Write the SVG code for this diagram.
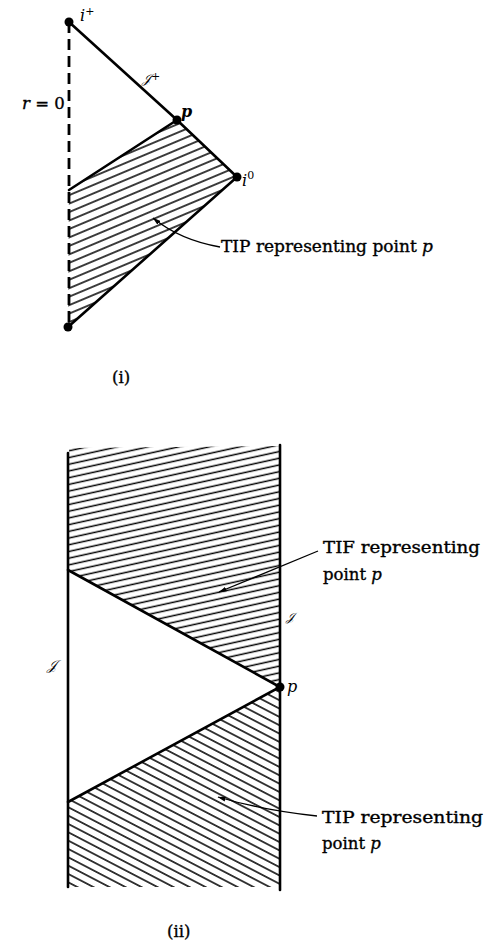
<svg xmlns="http://www.w3.org/2000/svg" width="486" height="943" viewBox="0 0 486 943">
<style>
.bd{stroke:#000;stroke-width:2.6;fill:none;stroke-linecap:round}
.ht{stroke:#000;stroke-width:1.5}
.lb{font-family:"DejaVu Serif","Liberation Serif",serif;font-size:16.5px;fill:#000;stroke:#000;stroke-width:0.35}
.it{font-family:"DejaVu Serif","Liberation Serif",serif;font-style:italic;fill:#000}
.ld{stroke:#000;stroke-width:1.3;fill:none}
</style>
<defs>
<pattern id="h1" patternUnits="userSpaceOnUse" width="20" height="7.8" patternTransform="rotate(-22.8)">
<line class="ht" x1="0" y1="3.9" x2="20" y2="3.9"/>
</pattern>
<pattern id="h2" patternUnits="userSpaceOnUse" width="20" height="6.55" patternTransform="rotate(-12.4)">
<line class="ht" x1="0" y1="3.2" x2="20" y2="3.2"/>
</pattern>
<pattern id="h3" patternUnits="userSpaceOnUse" width="20" height="7.4" patternTransform="rotate(27.5)">
<line class="ht" x1="0" y1="3.7" x2="20" y2="3.7"/>
</pattern>
<marker id="ar" viewBox="0 0 10 6" refX="9.5" refY="3" markerWidth="8" markerHeight="5" orient="auto" markerUnits="userSpaceOnUse">
<path d="M0,0 L10,3 L0,6 Z" fill="#000"/>
</marker>
</defs>

<!-- Diagram (i) -->
<g id="tip-region-i">
<polygon points="69,190 177,120 237,177 68,327" fill="url(#h1)"/>
</g>
<g id="r0-axis">
<line x1="69" y1="22" x2="69" y2="327" stroke="#000" stroke-width="2.8" stroke-dasharray="11,6"/>
</g>
<g id="connectors-i">
<polyline class="bd" points="69,22 177,120 237,177 68,327"/>
<line class="bd" x1="177" y1="120" x2="69" y2="190"/>
</g>
<g id="node-iplus"><circle cx="69" cy="22" r="4.5"/><text class="it" x="80" y="21" font-size="16">i<tspan font-style="normal" font-size="11" dy="-6">+</tspan></text></g>
<g id="node-p-i"><circle cx="177" cy="120" r="4.5"/><text class="it" x="181" y="117" font-size="16" font-weight="bold">p</text></g>
<g id="node-i0"><circle cx="237" cy="177" r="4.5"/><text class="it" x="242" y="186" font-size="16">i<tspan font-style="normal" font-size="11" dy="-7">0</tspan></text></g>
<g id="node-bottom-i"><circle cx="68" cy="327" r="4.5"/></g>
<g id="label-scri-plus"><text class="it" x="142" y="83" font-size="13">𝒥<tspan font-style="normal" font-size="11" dy="-3">+</tspan></text></g>
<g id="label-r0"><text class="lb" x="22" y="109"><tspan font-style="italic">r</tspan> = 0</text></g>
<g id="label-tip-i">
<path class="ld" d="M220,247 Q180,240 153,218" marker-end="url(#ar)"/>
<text class="lb" x="221" y="252" textLength="212" lengthAdjust="spacingAndGlyphs">TIP representing point <tspan font-style="italic">p</tspan></text>
</g>
<g id="caption-i"><text class="lb" x="112" y="383" font-size="14">(i)</text></g>

<!-- Diagram (ii) -->
<g id="tif-region">
<polygon points="69,448 280,446 280,687 69,570" fill="url(#h2)"/>
</g>
<g id="tip-region-ii">
<polygon points="69,802 280,687 280,887 69,887" fill="url(#h3)"/>
</g>
<g id="connectors-ii">
<line class="bd" x1="68" y1="453" x2="68" y2="887" stroke-width="3"/>
<line class="bd" x1="280" y1="445" x2="280" y2="890" stroke-width="3"/>
<polyline class="bd" points="68,570 280,687 68,802"/>
</g>
<g id="node-p-ii"><circle cx="280" cy="687" r="4.5"/><text class="it" x="287" y="692" font-size="16">p</text></g>
<g id="label-scri-right"><text class="it" x="286" y="621" font-size="12">𝒥</text></g>
<g id="label-scri-left"><text class="it" x="47" y="670" font-size="14">𝒥</text></g>
<g id="label-tif">
<line class="ld" x1="318" y1="551" x2="219" y2="592" marker-end="url(#ar)"/>
<text class="lb" x="323" y="553" textLength="157" lengthAdjust="spacingAndGlyphs">TIF representing</text>
<text class="lb" x="323" y="580">point <tspan font-style="italic">p</tspan></text>
</g>
<g id="label-tip-ii">
<path class="ld" d="M317,816 Q262,810 218,797" marker-end="url(#ar)"/>
<text class="lb" x="322" y="823" textLength="161" lengthAdjust="spacingAndGlyphs">TIP representing</text>
<text class="lb" x="322" y="849">point <tspan font-style="italic">p</tspan></text>
</g>
<g id="caption-ii"><text class="lb" x="167" y="937" font-size="14">(ii)</text></g>
</svg>
